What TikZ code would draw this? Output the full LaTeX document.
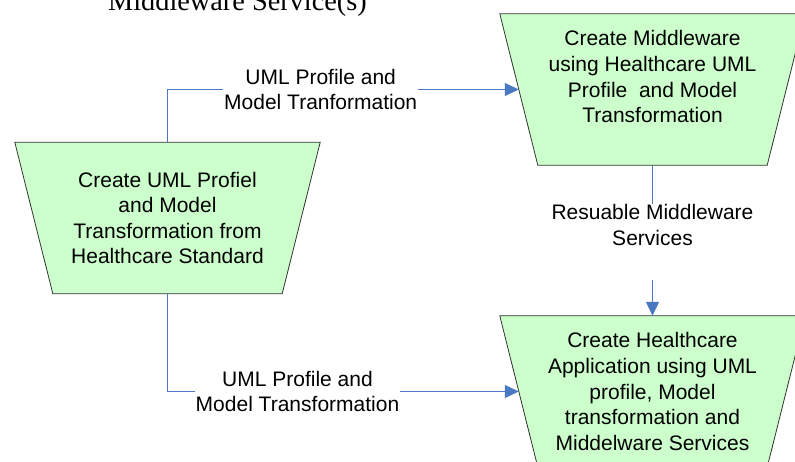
\documentclass[tikz,border=0pt]{standalone}
\usepackage{fontspec}
\setmainfont{Liberation Sans}
\newfontfamily\timesface{Liberation Serif}
\usetikzlibrary{arrows.meta,calc,backgrounds}

\definecolor{stepfill}{HTML}{CCFFCC}
\definecolor{flowblue}{HTML}{4A78C2}

\tikzset{
  steptext/.style={
    minimum width=305pt, minimum height=151pt, inner sep=1pt,
    align=center, font=\fontsize{21}{25.6}\selectfont
  },
  stepedge/.style={draw=black!80, line width=0.8pt, fill=stepfill},
  flow/.style={draw=flowblue, line width=1pt,
    -{Triangle[length=14pt,width=13pt]}},
  flowlabel/.style={fill=white, inner sep=1pt, align=center,
    font=\fontsize{21}{25.6}\selectfont}
}

% a process step: text node plus an inverted trapezoid behind it,
% and a named point in the middle of its slanted left side
\newcommand\processstep[3]{%
  \node[steptext] (#1) at #2 {#3};
  \begin{scope}[on background layer]
    \path[stepedge] (#1.north west) -- (#1.north east)
      -- ([xshift=-38pt]#1.south east) -- ([xshift=38pt]#1.south west) -- cycle;
  \end{scope}
  \coordinate (#1-in) at ($(#1.north west)!0.5!([xshift=38pt]#1.south west)$);
}

\begin{document}
\begin{tikzpicture}[x=1pt,y=-1pt]
  \clip (0,0) rectangle (795,461);
  \begin{scope}[on background layer]
    \fill[white] (0,0) rectangle (795,461);
  \end{scope}

  % heading cut by the page edge
  \node[anchor=base west, inner sep=0pt, font=\timesface\fontsize{28.3}{30}\selectfont]
    (head) at (108,10) {Middleware Service(s)};

  % the three process steps
  \processstep{std}{(167.5,218)}
    {Create UML Profiel\\and Model\\Transformation from\\Healthcare Standard}
  \processstep{mw}{(652.5,89.5)}
    {Create Middleware\\using Healthcare UML\\Profile\ \ and Model\\Transformation\\\mbox{}}
  \processstep{app}{(652.5,391.5)}
    {Create Healthcare\\Application using UML\\profile, Model\\transformation and\\Middelware Services}

  % connectors with their labels
  \draw[flow] (std.north) |- node[flowlabel, pos=0.718]
    {UML Profile and\\Model Tranformation} (mw-in);
  \draw[flow] (std.south) |- node[flowlabel, pos=0.685]
    {UML Profile and\\Model Transformation} (app-in);
  \draw[flow] (mw.south) -- node[flowlabel, pos=0.252, anchor=north]
    {Resuable Middleware\\Services\\\rule[-8pt]{0pt}{8pt}} (app.north);
\end{tikzpicture}
\end{document}
